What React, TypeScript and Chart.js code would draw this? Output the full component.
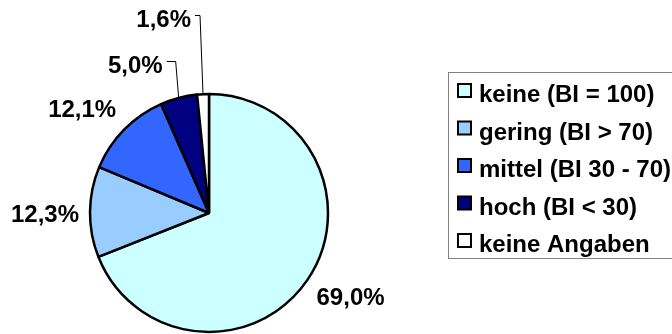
import React, { useEffect, useRef } from "react";
import { Chart, registerables } from "chart.js";

Chart.register(...registerables);

const categories = [
  "keine (BI = 100)",
  "gering (BI > 70)",
  "mittel (BI 30 - 70)",
  "hoch (BI < 30)",
  "keine Angaben",
];
const shares = [69.0, 12.3, 12.1, 5.0, 1.6];
const sliceColors = ["#CCFFFF", "#99CCFF", "#3366FF", "#000080", "#FFFFFF"];
const valueLabels = shares.map((v) => v.toFixed(1).replace(".", ",") + "%");

const FONT = 'bold 24px "Liberation Sans", Arial, sans-serif';

// leader-line settings for the small slices (index -> lift above center, stub length)
const leaders: Record<number, { lift: number; stub: number }> = {
  3: { lift: 152, stub: 9 },
  4: { lift: 198, stub: 5 },
};

const labelPlugin = {
  id: "pieValueLabels",
  afterDatasetsDraw(chart: any) {
    const ctx = chart.ctx as CanvasRenderingContext2D;
    const meta = chart.getDatasetMeta(0);
    ctx.save();
    ctx.font = FONT;
    ctx.fillStyle = "#000";
    meta.data.forEach((arc: any, i: number) => {
      const { x, y, startAngle, endAngle, outerRadius } = arc.getProps(
        ["x", "y", "startAngle", "endAngle", "outerRadius"],
        true
      );
      const mid = (startAngle + endAngle) / 2;
      const cos = Math.cos(mid);
      const sin = Math.sin(mid);
      const text = valueLabels[i];
      const lead = leaders[i];
      if (lead) {
        const px = x + cos * outerRadius;
        const py = y + sin * outerRadius;
        const ty = y - lead.lift;
        const topX = px - 3;
        ctx.strokeStyle = "#000";
        ctx.lineWidth = 1;
        ctx.beginPath();
        ctx.moveTo(px, py);
        ctx.lineTo(topX, ty + 0.5);
        ctx.lineTo(topX - lead.stub, ty + 0.5);
        ctx.stroke();
        ctx.textAlign = "right";
        ctx.textBaseline = "middle";
        ctx.fillText(text, topX - lead.stub - 4, ty + 5);
      } else {
        const gap = 11;
        const ax = x + cos * (outerRadius + gap);
        const ay = y + sin * (outerRadius + gap);
        ctx.textAlign = cos > 0.25 ? "left" : cos < -0.25 ? "right" : "center";
        ctx.textBaseline = sin > 0.25 ? "top" : sin < -0.25 ? "bottom" : "middle";
        ctx.fillText(text, ax, ay + (Math.abs(sin) <= 0.25 ? 4 : 0));
      }
    });
    ctx.restore();
  },
};

const legendPlugin = {
  id: "boxLegend",
  afterDraw(chart: any) {
    const ctx = chart.ctx as CanvasRenderingContext2D;
    ctx.save();
    ctx.strokeStyle = "#808080";
    ctx.lineWidth = 1;
    ctx.strokeRect(448.5, 72.5, 260, 186);
    ctx.font = FONT;
    ctx.textAlign = "left";
    ctx.textBaseline = "alphabetic";
    categories.forEach((name, i) => {
      const top = 84 + 37.5 * i;
      ctx.fillStyle = sliceColors[i];
      ctx.fillRect(458, top, 13, 13);
      ctx.strokeStyle = "#000";
      ctx.lineWidth = 2;
      ctx.strokeRect(458, top, 13, 13);
      ctx.fillStyle = "#000";
      ctx.fillText(name, 479, top + 18);
    });
    ctx.restore();
  },
};

export default function App() {
  const canvasRef = useRef<HTMLCanvasElement | null>(null);

  useEffect(() => {
    if (!canvasRef.current) return;
    const chart = new Chart(canvasRef.current, {
      type: "pie",
      data: {
        labels: categories,
        datasets: [
          {
            data: shares,
            backgroundColor: sliceColors,
            borderColor: "#000",
            borderWidth: 2.5,
          },
        ],
      },
      options: {
        responsive: false,
        animation: false,
        radius: 119,
        layout: { padding: { left: 0, top: 92, right: 254, bottom: 0 } },
        plugins: {
          legend: { display: false },
          tooltip: { enabled: false },
        },
      } as any,
      plugins: [labelPlugin, legendPlugin],
    });
    return () => chart.destroy();
  }, []);

  return (
    <div style={{ position: "fixed", left: 0, top: 0, width: 672, height: 334, background: "#fff" }}>
      <canvas ref={canvasRef} width={672} height={334} style={{ display: "block" }} />
    </div>
  );
}
